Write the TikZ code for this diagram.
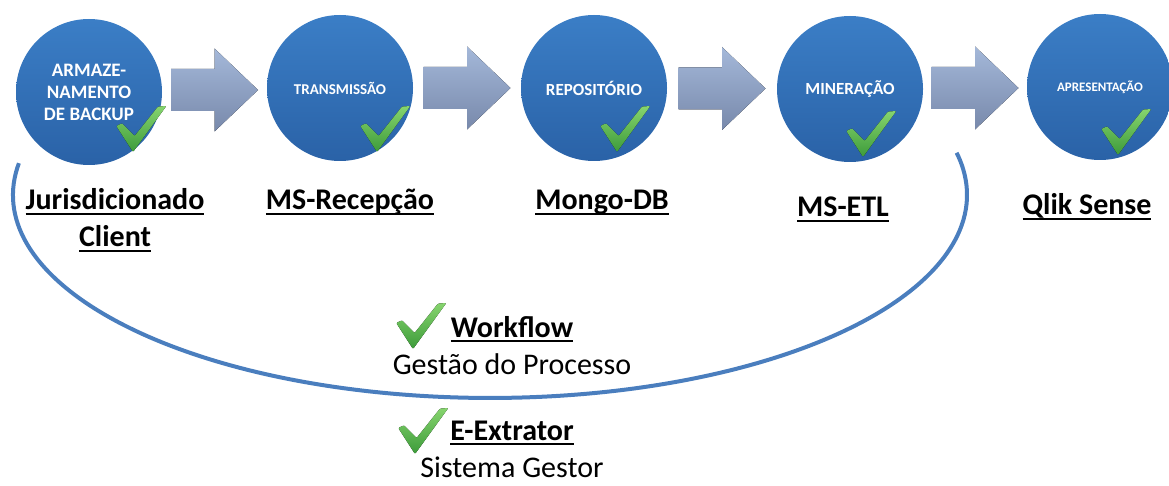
\documentclass[tikz,border=0pt]{standalone}
\usepackage{fontspec}
\setmainfont{Carlito}
\usepackage{tikz}
\usetikzlibrary{calc,positioning}

\definecolor{stagetop}{HTML}{3B7EC6}
\definecolor{stagebot}{HTML}{2A62A7}
\definecolor{flowtop}{HTML}{A4B8D9}
\definecolor{flowbot}{HTML}{7889AB}
\definecolor{ticktop}{HTML}{86D46E}
\definecolor{tickbot}{HTML}{3D9B3A}
\definecolor{loopblue}{HTML}{4A7EBE}

\newsavebox\ulsave
\newcommand{\undl}[1]{\sbox\ulsave{#1}\rlap{\rule[-5pt]{\wd\ulsave}{2pt}}\usebox\ulsave}

\tikzset{
    stage/.style={circle, minimum size=146pt, inner sep=0pt,
        top color=stagetop, bottom color=stagebot, text=white,
        align=center, font=\fontsize{#1}{22}\selectfont\bfseries},
    tool/.style={inner sep=0pt, align=center, anchor=base, text depth=0pt,
        font=\fontsize{30}{37}\selectfont\bfseries},
    cycleline/.style={draw=loopblue, line width=4pt},
    pics/flow/.style={code={
        \fill[top color=flowtop, bottom color=flowbot]
            (-43.5,-21) -- (0,-21) -- (0,-41.5) -- (43.5,0)
            -- (0,41.5) -- (0,21) -- (-43.5,21) -- cycle;}},
    pics/tick/.style={code={
        \fill[top color=ticktop, bottom color=tickbot, rounded corners=1pt]
            (0,0) -- (-16.7,26) -- (-11,28.7) -- (1.6,16)
            -- (25,45.4) -- (33.3,46) -- cycle;}}
}

\begin{document}
\begin{tikzpicture}[x=1pt, y=1pt]
    \useasboundingbox (0,0) rectangle (1169,485);

    % process stages
    \node[stage=19] (backup) at (89,393) {ARMAZE-\\NAMENTO\\DE BACKUP};
    \node[stage=15] (transmissao) at (340,397) {TRANSMISSÃO};
    \node[stage=17] (repositorio) at (594,397) {REPOSITÓRIO};
    \node[stage=17] (mineracao) at (850,396) {MINERAÇÃO};
    \node[stage=13] (apresentacao) at (1100,398) {APRESENTAÇÃO};

    \pic at ($(backup)!0.5!(transmissao)$) {flow};
    \pic at ($(transmissao)!0.5!(repositorio)$) {flow};
    \pic at ($(repositorio)!0.5!(mineracao)$) {flow};
    \pic at ($(mineracao)!0.5!(apresentacao)$) {flow};

    \pic at ($(backup)+(44,-60)$) {tick};
    \pic at ($(transmissao)+(37,-64)$) {tick};
    \pic at ($(repositorio)+(23,-64)$) {tick};
    \pic at ($(mineracao)+(13,-68)$) {tick};
    \pic at ($(apresentacao)+(18,-68)$) {tick};

    % systems
    \node[tool] (client) at (115,238) {\undl{Jurisdicionado}\\\undl{Client}};
    \node[tool] (recepcao) at (350,275) {\undl{MS-Recepção}};
    \node[tool] (mongo) at (602,275) {\undl{Mongo-DB}};
    \node[tool] (etl) at (843,268) {\undl{MS-ETL}};
    \node[tool] (qlik) at (1087,270) {\undl{Qlik Sense}};

    \coordinate (loopstart) at (18.9,321.8);
    \draw[cycleline] (loopstart) arc[start angle=171, end angle=372, x radius=477, y radius=203];

    \node[tool] (workflow) at (512,111) {\undl{Workflow}\\{\mdseries Gestão do Processo}};
    \node[tool] (extrator) at (512,8) {\undl{E-Extrator}\\{\mdseries Sistema Gestor}};
    \pic at (413,136) {tick};
    \pic at (415,31) {tick};
\end{tikzpicture}
\end{document}
